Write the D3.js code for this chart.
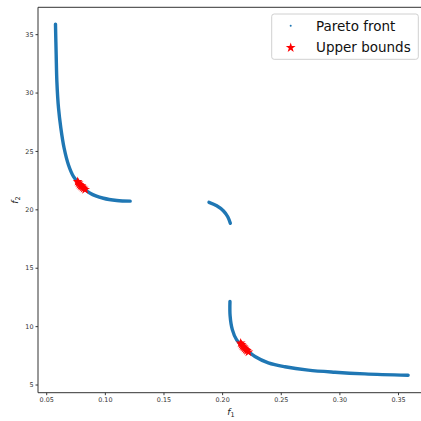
<!DOCTYPE html>
<html>
<head>
<meta charset="utf-8">
<script src="https://cdn.jsdelivr.net/npm/d3@7"></script>
<style>
html,body{margin:0;padding:0;background:#fff;}
svg{display:block;font-family:"DejaVu Sans",sans-serif;}
</style>
</head>
<body>
<svg id="chart" width="421" height="421"></svg>
<script>
// Pareto front, three branches (f1, f2)
const front1 = [
  [0.0579,35.86],[0.0585,33.23],[0.0591,30.94],[0.0605,28.66],[0.0625,26.95],
  [0.0653,25.23],[0.0690,23.80],[0.0733,22.80],[0.0790,22.09],[0.0875,21.38],
  [0.0988,20.95],[0.1102,20.76],[0.1216,20.70]
];
const front2 = [
  [0.1888,20.60],[0.1954,20.31],[0.2010,19.88],[0.2048,19.37],[0.2070,18.80]
];
const front3 = [
  [0.2067,12.12],[0.2068,10.90],[0.2087,9.70],[0.2124,8.82],[0.2195,8.09],
  [0.2280,7.40],[0.2394,6.86],[0.2536,6.52],[0.2734,6.23],[0.2962,6.05],
  [0.3217,5.91],[0.3586,5.79]
];
// Upper bounds (red stars)
const upper = [
  [0.0768,22.38],[0.0776,22.25],[0.0784,22.12],[0.0793,22.04],[0.0801,21.98],
  [0.0810,21.88],[0.0820,21.80],[0.0832,21.70],
  [0.2158,8.55],[0.2166,8.42],[0.2174,8.30],[0.2183,8.20],[0.2192,8.10],
  [0.2202,8.00],[0.2212,7.90],[0.2224,7.78]
];
const xTicks = [0.05,0.10,0.15,0.20,0.25,0.30,0.35];
const yTicks = [5,10,15,20,25,30,35];
const legendLabels = ["Pareto front","Upper bounds"];

const svg = d3.select("#chart");
const x = d3.scaleLinear().domain([0.043,0.373]).range([38,425]);
const y = d3.scaleLinear().domain([4.3,37.3]).range([392.7,7.3]);
const blue = "#1f77b4";

// axes
const xAxis = d3.axisBottom(x).tickValues(xTicks).tickFormat(d3.format(".2f")).tickSize(2.5).tickPadding(2);
const yAxis = d3.axisLeft(y).tickValues(yTicks).tickFormat(d3.format("d")).tickSize(2.5).tickPadding(2);
const gx = svg.append("g").attr("transform","translate(0,392.7)").call(xAxis);
const gy = svg.append("g").attr("transform","translate(38,0)").call(yAxis);
[gx,gy].forEach(g=>{
  g.select(".domain").remove();
  g.selectAll(".tick line").attr("stroke","#222").attr("stroke-width",0.9);
  g.selectAll(".tick text").attr("fill","#333").style("font-size","6.4px").style("font-family","DejaVu Sans");
});
// spines
svg.append("line").attr("x1",38).attr("x2",38).attr("y1",7.3).attr("y2",392.7).attr("stroke","#333").attr("stroke-width",1);
svg.append("line").attr("x1",38).attr("x2",425).attr("y1",392.7).attr("y2",392.7).attr("stroke","#333").attr("stroke-width",1);
svg.append("line").attr("x1",38).attr("x2",425).attr("y1",7.3).attr("y2",7.3).attr("stroke","#333").attr("stroke-width",1);

// front
const line = d3.line().x(d=>x(d[0])).y(d=>y(d[1])).curve(d3.curveCatmullRom);
[front1,front2,front3].forEach(seg=>{
  svg.append("path").attr("d",line(seg)).attr("fill","none").attr("stroke",blue)
    .attr("stroke-width",3.4).attr("stroke-linecap","round");
});

// stars
const star = d3.symbol().type(d3.symbolStar).size(30);
svg.append("g").selectAll("path").data(upper).join("path")
  .attr("transform",d=>`translate(${x(d[0])},${y(d[1])})`)
  .attr("d",star).attr("fill","red");

// axis labels
const xl = svg.append("text").attr("x",231).attr("y",415).attr("text-anchor","middle")
  .style("font-size","9px").attr("fill","#222");
xl.append("tspan").style("font-style","italic").text("f");
xl.append("tspan").attr("dy",2).style("font-size","6.5px").text("1");
const yl = svg.append("text").attr("transform","translate(18,200) rotate(-90)").attr("text-anchor","middle")
  .style("font-size","9px").attr("fill","#222");
yl.append("tspan").style("font-style","italic").text("f");
yl.append("tspan").attr("dy",2).style("font-size","6.5px").text("2");

// legend
const lg = svg.append("g");
lg.append("rect").attr("x",271.7).attr("y",14).attr("width",146.6).attr("height",45.3)
  .attr("rx",2.5).attr("fill","white").attr("fill-opacity",0.8).attr("stroke","#d0d0d0").attr("stroke-width",1);
lg.append("circle").attr("cx",290.7).attr("cy",25.7).attr("r",1).attr("fill",blue);
lg.append("path").attr("transform","translate(290.7,47.7)").attr("d",d3.symbol().type(d3.symbolStar).size(30)()).attr("fill","red");
lg.selectAll("text.lab").data(legendLabels).join("text").attr("class","lab")
  .attr("x",316).attr("y",(d,i)=>30.6+i*21).text(d=>d)
  .style("font-size","13.5px").attr("fill","#111");
</script>
</body>
</html>
